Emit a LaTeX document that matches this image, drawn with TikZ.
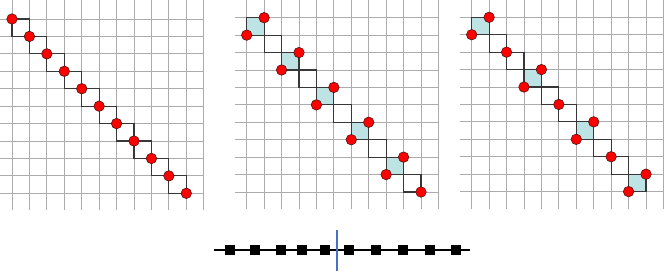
\documentclass[tikz,border=0pt]{standalone}
\definecolor{gridc}{RGB}{172,172,172}
\definecolor{stairc}{RGB}{55,55,55}
\definecolor{cellc}{RGB}{190,227,228}
\definecolor{dotc}{RGB}{255,0,0}
\definecolor{dotline}{RGB}{80,20,20}
\definecolor{axisblue}{RGB}{68,114,196}
\tikzset{
  gridline/.style={draw=gridc, line width=0.8pt},
  stairline/.style={draw=stairc, line width=1.1pt},
  cellfill/.style={fill=cellc},
  dot/.style={circle, fill=dotc, draw=dotline, line width=0.6pt, minimum size=10.5pt, inner sep=0pt},
  site/.style={rectangle, fill=black, minimum size=10pt, inner sep=0pt},
  chain/.style={draw=black, line width=1.4pt},
  cut/.style={draw=axisblue, line width=1.6pt},
  panel/.style={x=17.43pt, y=-17.43pt},
}
\newcommand{\panelgrid}{%
  \foreach \i in {0,...,11} \draw[gridline] (\i,-1.12) -- (\i,10.98);
  \foreach \j in {0,...,10} \draw[gridline] (-0.69,\j) -- (11,\j);
}
\begin{document}
\begin{tikzpicture}[x=1pt, y=-1pt]
\useasboundingbox (0,0) rectangle (664,271);

% ---------- panel 1 ----------
\begin{scope}[shift={(12pt,-19pt)}, panel]
  \panelgrid
  \foreach \i in {0,...,9} {
    \coordinate (a1-\i) at (\i,\i);
    \draw[stairline] (\i,\i) rectangle (\i+1,\i+1);
  }
  \foreach \i in {0,...,10} \node[dot] (d1-\i) at (\i,\i) {};
\end{scope}

% ---------- panel 2 ----------
\begin{scope}[shift={(246.7pt,-17.7pt)}, panel]
  \panelgrid
  \foreach \i in {0,2,4,6,8} \fill[cellfill] (\i,\i) rectangle (\i+1,\i+1);
  \foreach \i in {0,...,9} \draw[stairline] (\i,\i) rectangle (\i+1,\i+1);
  \foreach \i [evaluate=\i as \k using int(\i+1)] in {0,2,4,6,8} {
    \node[dot] (d2-bl-\i) at (\i,\k) {};
    \node[dot] (d2-tr-\i) at (\k,\i) {};
  }
  \node[dot] (d2-end) at (10,10) {};
\end{scope}

% ---------- panel 3 ----------
\begin{scope}[shift={(471.7pt,-17.3pt)}, panel]
  \panelgrid
  \foreach \i in {0,3,6,9} \fill[cellfill] (\i,\i) rectangle (\i+1,\i+1);
  \foreach \i in {0,...,9} \draw[stairline] (\i,\i) rectangle (\i+1,\i+1);
  \foreach \i [evaluate=\i as \k using int(\i+1)] in {0,3,6,9} {
    \node[dot] (d3-bl-\i) at (\i,\k) {};
    \node[dot] (d3-tr-\i) at (\k,\i) {};
  }
  \foreach \i in {2,5,8} \node[dot] (d3-m-\i) at (\i,\i) {};
\end{scope}

% ---------- bottom chain ----------
\coordinate (cl) at (214.3,250);
\coordinate (cr) at (470,250);
\draw[chain] (cl) -- (cr);
\foreach \x [count=\n] in {229.7,255.3,281,302.3,325,349,375.7,403.3,429.7,455.7}
  \node[site] (s\n) at (\x,250) {};
\coordinate (ct) at (336.7,230);
\coordinate (cb) at (336.7,271);
\draw[cut] (ct) -- (cb);
\end{tikzpicture}
\end{document}
